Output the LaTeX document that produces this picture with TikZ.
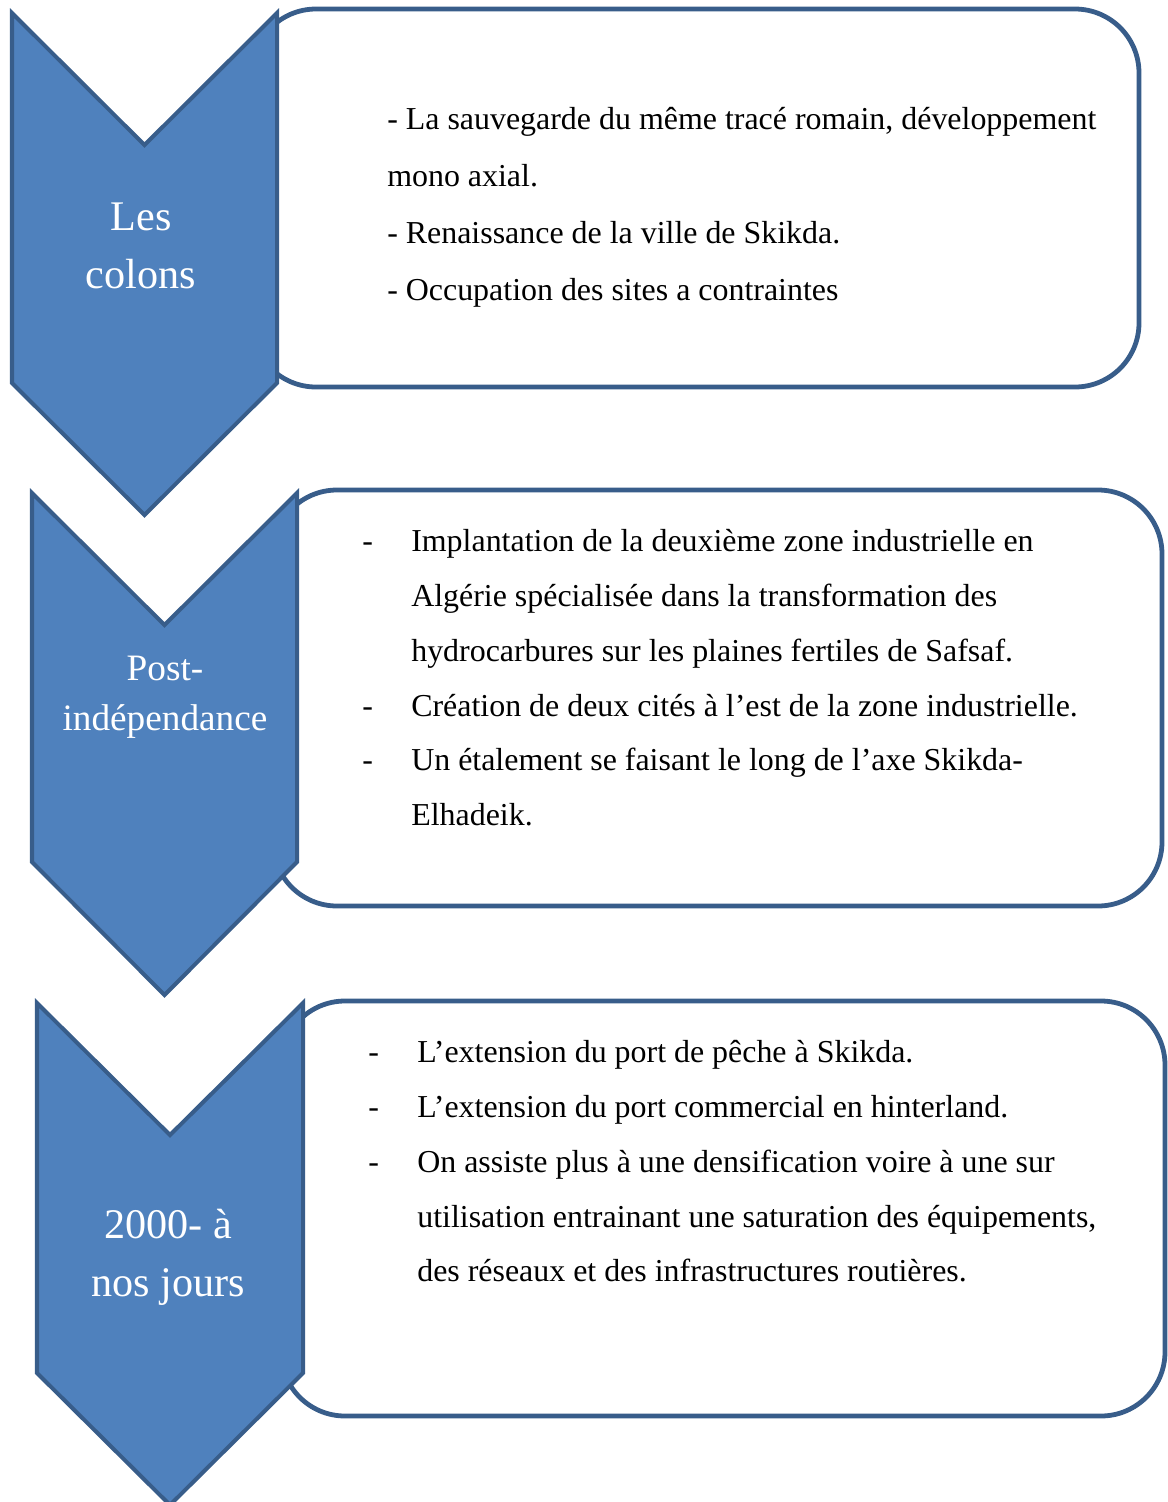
\documentclass[tikz,border=0pt]{standalone}
\usepackage{fontspec}
\setmainfont{Liberation Serif}
\definecolor{tlBlue}{RGB}{79, 129, 189}
\definecolor{tlEdge}{RGB}{56, 93, 138}
\usetikzlibrary{positioning}
\tikzset{
  period/.style={draw=tlEdge, line width=0.1cm, fill=tlBlue, line join=miter},
  eventbox/.style={draw=tlEdge, line width=0.12cm, fill=white, rounded corners=1.6cm},
  periodlabel/.style={text=white, align=center, inner sep=0pt, font=\fontsize{30}{41}\selectfont},
  itemlist/.style={anchor=north west, align=left, inner sep=0pt, text=black, font=\fontsize{22.7}{39}\selectfont},
}
\newcommand{\dashitem}{\makebox[1.225cm][l]{-}}
\newcommand{\hangitem}{\hspace*{1.225cm}}

\begin{document}
\begin{tikzpicture}[x=0.025cm, y=-0.025cm]
  \useasboundingbox (0,0) rectangle (1168,1502);

  % text boxes
  \draw[eventbox] (252,9) rectangle (1139,387);
  \draw[eventbox] (273,490) rectangle (1162,906);
  \draw[eventbox] (281,1001) rectangle (1165,1416);

  % chevrons
  \draw[period] (12,13) -- (144.5,145) -- (277,13) -- (277,383) -- (144.5,515) -- (12,383) -- cycle;
  \draw[period] (32,493) -- (164.5,625) -- (297,493) -- (297,862) -- (164.5,995) -- (32,862) -- cycle;
  \draw[period] (37,1003) -- (170,1135) -- (303,1003) -- (303,1373) -- (170,1505) -- (37,1373) -- cycle;

  % period names
  \node[periodlabel] (colons) at (141,246) {Les\\colons};
  \node[periodlabel, font=\fontsize{26.5}{35.5}\selectfont] (postindep) at (165,697) {Post-\\indépendance};
  \node[periodlabel] (today) at (168,1257) {2000- à\\nos jours};

  % facts
  \node[itemlist, font=\fontsize{22.7}{40.5}\selectfont] (facts1) at (387,107) {
    - La sauvegarde du même tracé romain, développement\\
    mono axial.\\
    - Renaissance de la ville de Skikda.\\
    - Occupation des sites a contraintes
  };
  \node[itemlist] (facts2) at (362,529) {
    \dashitem Implantation de la deuxième zone industrielle en\\
    \hangitem Algérie spécialisée dans la transformation des\\
    \hangitem hydrocarbures sur les plaines fertiles de Safsaf.\\
    \dashitem Création de deux cités à l’est de la zone industrielle.\\
    \dashitem Un étalement se faisant le long de l’axe Skikda-\\
    \hangitem Elhadeik.
  };
  \node[itemlist] (facts3) at (368,1040) {
    \dashitem L’extension du port de pêche à Skikda.\\
    \dashitem L’extension du port commercial en hinterland.\\
    \dashitem On assiste plus à une densification voire à une sur\\
    \hangitem utilisation entrainant une saturation des équipements,\\
    \hangitem des réseaux et des infrastructures routières.
  };
\end{tikzpicture}
\end{document}
